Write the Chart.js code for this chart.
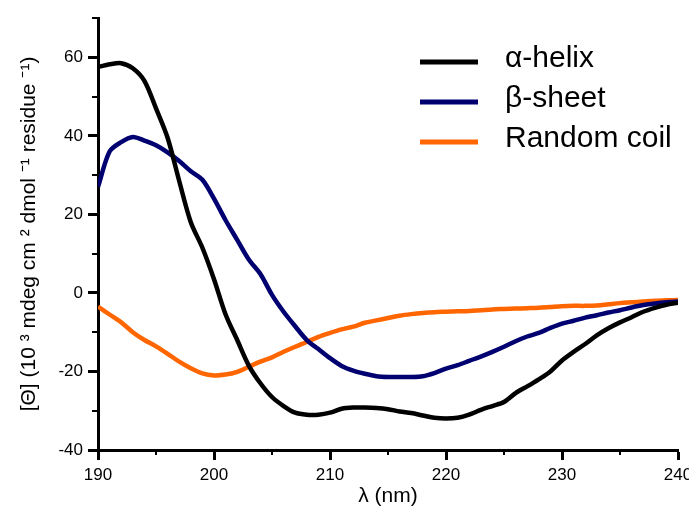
<!DOCTYPE html>
<html>
<head>
<meta charset="utf-8">
<script src="https://cdn.jsdelivr.net/npm/chart.js@4"></script>
<style>
  html, body { margin: 0; padding: 0; background: #fff; }
  #wrap { width: 689px; height: 513px; }
</style>
</head>
<body>
<div id="wrap"><canvas id="cd-chart" width="689" height="513"></canvas></div>
<script>
// Wavelengths (nm), one reading per nm
const wavelengths = [];
for (let nm = 190; nm <= 240; nm++) wavelengths.push(nm);

// Values, 10^3 mdeg cm2 dmol-1 residue-1
const alphaHelix = [
    57.5, 58.2, 58.5, 57.2, 54.0, 47.0, 39.5, 28.5, 18.0, 11.5,
    3.5, -5.5, -12.0, -18.5, -23.0, -26.5, -28.8, -30.5, -31.0, -31.0,
    -30.5, -29.5, -29.2, -29.2, -29.3, -29.6, -30.2, -30.6, -31.2, -31.8,
    -32.0, -31.8, -31.0, -29.8, -28.8, -27.8, -25.5, -23.8, -22.0, -20.0,
    -17.2, -15.0, -13.0, -10.8, -9.0, -7.5, -6.2, -4.8, -3.8, -3.0,
    -2.5
];
const betaSheet = [
    27.0, 36.0, 38.4, 39.7, 38.8, 37.6, 35.8, 33.6, 31.0, 28.8,
    24.0, 18.5, 13.5, 8.5, 4.8, -0.5, -4.8, -8.5, -12.0, -14.3,
    -16.6, -18.6, -19.8, -20.6, -21.2, -21.4, -21.4, -21.4, -21.2, -20.4,
    -19.3, -18.4, -17.3, -16.2, -15.0, -13.7, -12.3, -11.1, -10.2, -8.9,
    -7.8, -7.1, -6.3, -5.7, -5.0, -4.4, -3.7, -3.1, -2.7, -2.4,
    -2.2
];
const randomCoil = [
    -3.5, -5.5, -7.5, -10.0, -12.0, -13.6, -15.5, -17.5, -19.2, -20.5,
    -21.0, -20.8, -20.1, -18.8, -17.5, -16.4, -15.0, -13.7, -12.5, -11.2,
    -10.2, -9.3, -8.6, -7.6, -7.0, -6.4, -5.8, -5.4, -5.1, -4.9,
    -4.8, -4.7, -4.6, -4.4, -4.2, -4.1, -4.0, -3.9, -3.8, -3.6,
    -3.4, -3.3, -3.3, -3.2, -2.9, -2.6, -2.4, -2.2, -2.0, -1.9,
    -1.8
];

const seriesLabels = ['\u03B1-helix', '\u03B2-sheet', 'Random coil'];
const seriesColors = ['#000000', '#000070', '#ff6600'];

// Minor tick positions (majors are drawn by the axes themselves)
const yMinorTicks = [-30, -10, 10, 30, 50, 70];
const xMinorTicks = [195, 205, 215, 225, 235];

function toPoints(values) {
    return values.map((v, i) => ({ x: wavelengths[i], y: v }));
}

const tickFont = { family: '"Liberation Sans", Arial, sans-serif', size: 17 };
const titleFont = { family: '"Liberation Sans", Arial, sans-serif', size: 21 };

// Short outward minor ticks
const minorTicks = {
    id: 'minorTicks',
    afterDraw(chart) {
        const ctx = chart.ctx;
        const xs = chart.scales.x, ys = chart.scales.y;
        const area = chart.chartArea;
        ctx.save();
        ctx.strokeStyle = '#000';
        ctx.lineWidth = 2;
        ctx.beginPath();
        yMinorTicks.forEach(v => {
            const py = Math.round(ys.getPixelForValue(v));
            ctx.moveTo(area.left - 6, py);
            ctx.lineTo(area.left, py);
        });
        xMinorTicks.forEach(v => {
            const px = Math.round(xs.getPixelForValue(v));
            ctx.moveTo(px, area.bottom);
            ctx.lineTo(px, area.bottom + 5);
        });
        ctx.stroke();
        ctx.restore();
    }
};

// Legend in the upper right of the plot
const insideLegend = {
    id: 'insideLegend',
    afterDraw(chart) {
        const ctx = chart.ctx;
        ctx.save();
        ctx.font = '30px "Liberation Sans", Arial, sans-serif';
        ctx.textBaseline = 'middle';
        chart.data.datasets.forEach((ds, i) => {
            const y = 62 + i * 40;
            ctx.strokeStyle = ds.borderColor;
            ctx.lineWidth = 5;
            ctx.beginPath();
            ctx.moveTo(420, y);
            ctx.lineTo(478, y);
            ctx.stroke();
            ctx.fillStyle = '#000';
            ctx.fillText(ds.label, 505, y - 3);
        });
        ctx.restore();
    }
};

const ctx = document.getElementById('cd-chart').getContext('2d');
const chart = new Chart(ctx, {
    type: 'line',
    data: {
        datasets: [
            { label: seriesLabels[0], data: toPoints(alphaHelix), borderColor: seriesColors[0], borderWidth: 4.5 },
            { label: seriesLabels[1], data: toPoints(betaSheet), borderColor: seriesColors[1], borderWidth: 4.5 },
            { label: seriesLabels[2], data: toPoints(randomCoil), borderColor: seriesColors[2], borderWidth: 4.5 }
        ]
    },
    options: {
        responsive: false,
        animation: false,
        devicePixelRatio: 1,
        elements: {
            point: { radius: 0 },
            line: { tension: 0.3, fill: false }
        },
        layout: { padding: { left: 0, right: 11, top: 18, bottom: 0 } },
        plugins: {
            legend: { display: false },
            tooltip: { enabled: false }
        },
        scales: {
            x: {
                type: 'linear',
                min: 190,
                max: 240,
                border: { display: true, color: '#000', width: 3 },
                grid: { drawOnChartArea: false, drawTicks: true, tickLength: 10, tickWidth: 3, tickColor: '#000' },
                ticks: { stepSize: 10, color: '#000', font: tickFont, padding: 5, maxRotation: 0 },
                title: { display: true, text: '\u03BB (nm)', color: '#000', font: titleFont, padding: { top: 0, bottom: 4 } },
                afterFit(scale) {
                    scale.height = 63;
                    scale.paddingLeft = 0;
                    scale.paddingRight = 0;
                }
            },
            y: {
                min: -40,
                max: 70,
                border: { display: true, color: '#000', width: 3 },
                grid: { drawOnChartArea: false, drawTicks: true, tickLength: 10, tickWidth: 3, tickColor: '#000' },
                ticks: { stepSize: 20, includeBounds: false, color: '#000', font: tickFont, padding: 5 },
                title: {
                    display: true,
                    text: '[\u0398] (10 \u00B3 mdeg cm \u00B2 dmol \u207B\u00B9 residue \u207B\u00B9)',
                    color: '#000',
                    font: titleFont,
                    padding: { top: 17, bottom: 0 }
                },
                afterFit(scale) {
                    scale.width = 98;
                    scale.paddingTop = 0;
                    scale.paddingBottom = 0;
                }
            }
        }
    },
    plugins: [minorTicks, insideLegend]
});
</script>
</body>
</html>
